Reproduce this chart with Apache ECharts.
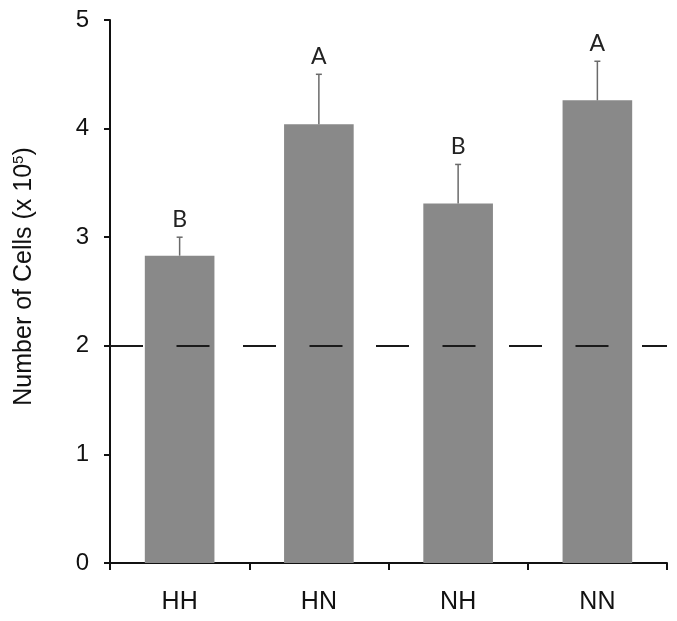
<!DOCTYPE html>
<html>
<head>
<meta charset="utf-8">
<script src="https://cdn.jsdelivr.net/npm/echarts@6/dist/echarts.min.js"></script>
<style>
  html, body { margin: 0; padding: 0; background: #fff; }
  #chart { width: 677px; height: 621px; }
</style>
</head>
<body>
<div id="chart"></div>
<script>
// data
var categories = ["HH", "HN", "NH", "NN"];
var means = [2.83, 4.04, 3.31, 4.26];
var errorTops = [3.0, 4.5, 3.67, 4.62];
var letters = ["B", "A", "B", "A"];
var yTicks = [0, 1, 2, 3, 4, 5];
var refLine = 2;

var chart = echarts.init(document.getElementById("chart"));

var errData = categories.map(function (c, i) {
  return [i, means[i], errorTops[i]];
});

var option = {
  animation: false,
  grid: { left: 110, right: 10, top: 20, bottom: 58 },
  xAxis: {
    type: "category",
    data: categories,
    axisLine: { lineStyle: { color: "#111", width: 2 } },
    axisTick: { show: true, length: 7, lineStyle: { color: "#111", width: 2 } },
    axisLabel: {
      color: "#111",
      fontSize: 25,
      fontFamily: "Liberation Sans",
      margin: 27
    }
  },
  yAxis: {
    type: "value",
    min: yTicks[0],
    max: yTicks[yTicks.length - 1],
    interval: 1,
    splitLine: { show: false },
    axisLine: { show: true, lineStyle: { color: "#111", width: 2 } },
    axisTick: { show: true, length: 6, lineStyle: { color: "#111", width: 2 } },
    axisLabel: {
      color: "#111",
      fontSize: 24,
      fontFamily: "Liberation Sans",
      margin: 21
    },
    name: "Number of Cells (x 10{sup|5})",
    nameLocation: "middle",
    nameRotate: 90,
    nameGap: 72,
    nameTextStyle: {
      color: "#111",
      fontSize: 25,
      fontFamily: "Liberation Sans",
      padding: [0, 0, 0, 30],
      rich: {
        sup: { fontSize: 15, verticalAlign: "top", padding: [0, 0, 12, 0], fontFamily: "Liberation Sans", color: "#111" }
      }
    }
  },
  series: [
    {
      type: "bar",
      data: means,
      barWidth: "50%",
      itemStyle: { color: "#898989" },
      markLine: {
        silent: true,
        symbol: "none",
        label: { show: false },
        lineStyle: { color: "#1a1a1a", width: 2, type: [33, 33.5] },
        data: [{ yAxis: refLine }]
      }
    },
    {
      type: "custom",
      data: errData,
      z: 5,
      renderItem: function (params, api) {
        var top = api.coord([api.value(0), api.value(2)]);
        var bot = api.coord([api.value(0), api.value(1)]);
        var style = { stroke: "#6a6a6a", lineWidth: 1.5 };
        return {
          type: "group",
          children: [
            { type: "line", shape: { x1: top[0], y1: top[1], x2: bot[0], y2: bot[1] }, style: style },
            { type: "line", shape: { x1: top[0] - 3, y1: top[1], x2: top[0] + 3, y2: top[1] }, style: style },
            {
              type: "text",
              style: {
                text: letters[params.dataIndex],
                x: top[0],
                y: top[1] - 6,
                align: "center",
                verticalAlign: "bottom",
                fill: "#222",
                fontSize: 23,
                fontFamily: "Lato"
              }
            }
          ]
        };
      }
    }
  ]
};

chart.setOption(option);
</script>
</body>
</html>
